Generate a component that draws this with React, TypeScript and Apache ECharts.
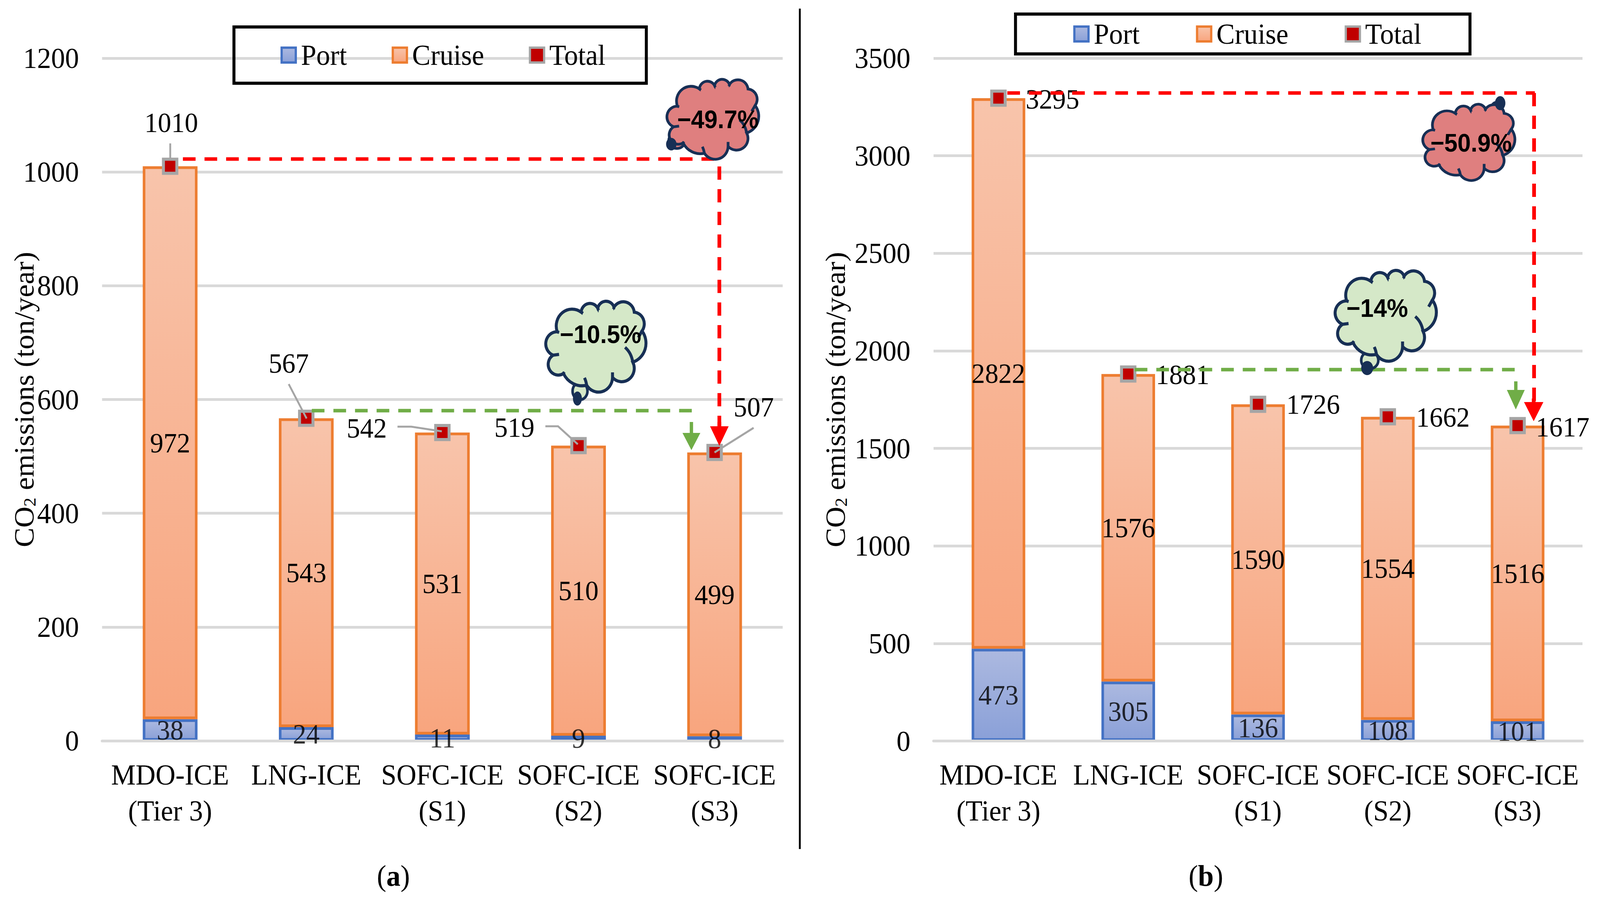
import React, { useEffect, useRef } from "react";
import * as echarts from "echarts";

const categories = ["MDO-ICE\n(Tier 3)", "LNG-ICE", "SOFC-ICE\n(S1)", "SOFC-ICE\n(S2)", "SOFC-ICE\n(S3)"];
const portA = [38, 24, 11, 9, 8];
const cruiseA = [972, 543, 531, 510, 499];
const totalA = [1010, 567, 542, 519, 507];
const portB = [473, 305, 136, 108, 101];
const cruiseB = [2822, 1576, 1590, 1554, 1516];
const totalB = [3295, 1881, 1726, 1662, 1617];
const totalOffsetsA = [[3, -112], [-47, -141], [-203, -12], [-172, -47], [105, -116]];
const totalOffsetsB = [[145, 2], [146, 1], [148, 0], [148, 1], [121, 3]];
const legendNames = ["Port", "Cruise", "Total"];

const DESIGN_WIDTH = 4295;
const DESIGN_HEIGHT = 2306;
const SERIF = "Liberation Serif";
const SANS = "Liberation Sans";
const NAVY = "#172f55";
const RED = "#ff0000";
const GREEN = "#70ad47";
const GRAY = "#a5a5a5";
const CLOUD_RED = "#df7f7f";
const CLOUD_GREEN = "#d5e8c8";

echarts.graphic.registerShape(
  "cloud",
  echarts.graphic.extendPath(
    "M28 86 A43 43 0 0 1 93 36 A24 24 0 0 1 138 26 A23 23 0 0 1 182 23 A30 30 0 0 1 237 36 A30 30 0 0 1 258 84 " +
      "A51 51 0 0 1 233 164 A34 34 0 0 1 178 203 A38 38 0 0 1 108 223 A57 57 0 0 1 45 193 A27 27 0 0 1 17 146 A31 31 0 0 1 28 86 Z " +
      "M28 86 L33 88 M93 36 L98 39 M138 26 L140 31 M182 23 L181 28 M258 84 L248 101 M233 164 Q229 140 212 126 " +
      "M178 203 L178 190 M108 223 Q106 212 102 204 M45 193 L47 189 M17 146 L33 144",
    {}
  ) as any
);

const cruiseFill = () =>
  new echarts.graphic.LinearGradient(0, 0, 0, 1, [
    { offset: 0, color: "#f8c4ab" },
    { offset: 1, color: "#f8a57e" },
  ]);
const portFill = () =>
  new echarts.graphic.LinearGradient(0, 0, 0, 1, [
    { offset: 0, color: "#acb9e0" },
    { offset: 1, color: "#8aa0d8" },
  ]);

function dashed(x1: number, y1: number, x2: number, y2: number, stroke: string, lineWidth: number) {
  return {
    type: "line",
    z: 20,
    shape: { x1, y1, x2, y2 },
    style: { stroke, lineWidth, lineDash: [34, 24] },
  };
}
function arrow(x: number, y1: number, y2: number, y3: number, half: number, color: string, shaft: number) {
  return {
    type: "polygon",
    z: 21,
    shape: {
      points: [
        [x - shaft / 2, y1],
        [x + shaft / 2, y1],
        [x + shaft / 2, y2],
        [x + half, y2],
        [x, y3],
        [x - half, y2],
        [x - shaft / 2, y2],
      ],
    },
    style: { fill: color },
  };
}
function leader(points: number[][]) {
  return {
    type: "polyline",
    z: 22,
    shape: { points },
    style: { stroke: GRAY, lineWidth: 5, fill: "none" },
  };
}
function cloud(
  x: number, y: number, sx: number, sy: number, fill: string, text: string, tx: number, ty: number,
  ring: number[], dot: number[]
) {
  return [
    {
      type: "ellipse", z: 23,
      shape: { cx: ring[0], cy: ring[1], rx: ring[2], ry: ring[3] },
      style: { fill, stroke: NAVY, lineWidth: 7 },
    },
    {
      type: "cloud", z: 24, x, y, scaleX: sx, scaleY: sy,
      style: { fill, stroke: NAVY, lineWidth: 8 },
    },
    {
      type: "ellipse", z: 25,
      shape: { cx: dot[0], cy: dot[1], rx: dot[2], ry: dot[3] },
      style: { fill: NAVY },
    },
    {
      type: "text", z: 26, x: tx, y: ty,
      style: {
        text, fontFamily: SANS, fontWeight: "bold", fontSize: 64, fill: "#000",
        align: "center", verticalAlign: "middle",
      },
    },
  ];
}
function caption(x: number, letter: string) {
  return {
    type: "text", z: 26, x, y: 2241,
    style: {
      text: `({b|${letter}})`, fontFamily: SERIF, fontSize: 76, fill: "#000",
      align: "center", verticalAlign: "middle",
      rich: { b: { fontFamily: SERIF, fontSize: 76, fontWeight: "bold", fill: "#000" } },
    },
  };
}
function legendBox(x: number, y: number, width: number, height: number) {
  return {
    type: "rect", z: 3,
    shape: { x, y, width, height },
    style: { fill: "none", stroke: "#000", lineWidth: 8 },
  };
}

function makeLegend(left: number, top: number, itemGap: number) {
  return {
    left, top, orient: "horizontal", padding: 0, itemGap, itemWidth: 38, itemHeight: 38,
    icon: "rect", selectedMode: false, data: legendNames,
    itemStyle: { borderWidth: 6 },
    textStyle: {
      fontFamily: SERIF, fontSize: 74, lineHeight: 80, color: "#000",
      padding: [0, 0, 0, 9],
    },
  };
}
function makeXAxis(gridIndex: number) {
  return {
    type: "category", gridIndex, data: categories, z: 3,
    axisTick: { show: false },
    axisLine: { show: true, lineStyle: { color: "#d9d9d9", width: 7 } },
    axisLabel: {
      interval: 0, margin: 41, fontFamily: SERIF, fontSize: 74, lineHeight: 92, color: "#000",
    },
  };
}
function makeYAxis(gridIndex: number, max: number, interval: number, nameGap: number) {
  return {
    type: "value", gridIndex, min: 0, max, interval,
    name: "CO{sub|2} emissions (ton/year)",
    nameLocation: "middle", nameRotate: 90, nameGap, nameMoveOverlap: false,
    nameTextStyle: {
      fontFamily: SERIF, fontSize: 75, color: "#000",
      rich: { sub: { fontFamily: SERIF, fontSize: 46, color: "#000", verticalAlign: "bottom", padding: [22, 0, 0, 0] } },
    },
    axisLine: { show: false },
    axisTick: { show: false },
    splitLine: { show: true, lineStyle: { color: "#d9d9d9", width: 7 } },
    axisLabel: {
      margin: 62, fontFamily: SERIF, fontSize: 75, color: "#000",
      formatter: (v: number) => String(v),
    },
  };
}
function makeSeries(
  axisIndex: number, stack: string, barWidth: number,
  port: number[], cruise: number[], total: number[], offsets: number[][]
) {
  const insideLabel = {
    show: true, position: "inside", fontFamily: SERIF, fontSize: 72, color: "#000",
  };
  return [
    {
      name: "Port", type: "bar", stack, xAxisIndex: axisIndex, yAxisIndex: axisIndex, barWidth,
      data: port,
      itemStyle: { color: portFill(), borderColor: "#4472c4", borderWidth: 7 },
    },
    {
      name: "Cruise", type: "bar", stack, xAxisIndex: axisIndex, yAxisIndex: axisIndex, barWidth,
      data: cruise,
      itemStyle: { color: cruiseFill(), borderColor: "#ed7d31", borderWidth: 7 },
      label: insideLabel,
    },
    {
      // carries the Port value labels above the zero line, at the middle of each Port bar
      name: "Port value", type: "scatter", xAxisIndex: axisIndex, yAxisIndex: axisIndex,
      symbol: "rect", symbolSize: 1, z: 6,
      itemStyle: { color: "rgba(0,0,0,0)" },
      data: port.map((v) => ({ value: v / 2, label: { formatter: String(v) } })),
      label: insideLabel,
    },
    {
      name: "Total", type: "scatter", xAxisIndex: axisIndex, yAxisIndex: axisIndex,
      symbol: "rect", symbolSize: 36, z: 5,
      itemStyle: { color: "#c00000", borderColor: GRAY, borderWidth: 8, opacity: 1 },
      data: total.map((value, i) => ({
        value,
        label: { offset: offsets[i] },
      })),
      label: {
        show: true, position: "inside", fontFamily: SERIF, fontSize: 72, color: "#000",
      },
    },
  ];
}

export default function App() {
  const ref = useRef<HTMLDivElement>(null);
  // the browser window may be narrower than the design width: fit the whole chart inside it
  const fit = Math.min(1, window.innerWidth / DESIGN_WIDTH);
  useEffect(() => {
    const chart = echarts.init(ref.current!, undefined, { renderer: "svg" });
    chart.setOption({
      animation: false,
      backgroundColor: "#fff",
      grid: [
        { left: 274, top: 149, width: 1827, height: 1747, outerBoundsMode: "none", containLabel: false },
        { left: 2506, top: 149, width: 1742, height: 1747.5, outerBoundsMode: "none", containLabel: false },
      ],
      legend: [makeLegend(753, 101, 120), makeLegend(2881, 47, 151)],
      xAxis: [makeXAxis(0), makeXAxis(1)],
      yAxis: [makeYAxis(0, 1200, 200, 171), makeYAxis(1, 3500, 500, 225)],
      series: [
        ...makeSeries(0, "a", 147, portA, cruiseA, totalA, totalOffsetsA),
        ...makeSeries(1, "b", 144, portB, cruiseB, totalB, totalOffsetsB),
      ],
      graphic: {
        elements: [
          legendBox(628, 69, 1107, 144),
          legendBox(2726, 36, 1220, 102),
          { type: "line", z: 20, shape: { x1: 2147, y1: 22, x2: 2147, y2: 2173 }, style: { stroke: "#000", lineWidth: 5 } },
          dashed(491, 407, 1931, 407, RED, 9),
          dashed(1931, 426, 1931, 1091, RED, 10),
          arrow(1931, 1080, 1091, 1141, 25, RED, 10),
          dashed(837, 1051, 1859, 1051, GREEN, 9),
          arrow(1856, 1080, 1108, 1152, 24, GREEN, 9),
          dashed(2704, 238, 4120, 238, RED, 9),
          dashed(4118, 238, 4118, 1029, RED, 10),
          arrow(4117, 1020, 1029, 1078, 26, RED, 10),
          dashed(3046, 946, 4072, 946, GREEN, 9),
          arrow(4069, 976, 998, 1048, 24, GREEN, 9),
          leader([[457, 367], [457, 410]]),
          leader([[775, 983], [823, 1071]]),
          leader([[1067, 1092], [1104, 1092], [1186, 1104]]),
          leader([[1464, 1091], [1498, 1091], [1551, 1137]]),
          leader([[2023, 1095], [1918, 1158]]),
          ...cloud(1793, 196, 0.907, 0.88, CLOUD_RED, "\u221249.7%", 1927, 305, [1817, 360, 22, 20], [1802, 369, 14, 16]),
          ...cloud(1468, 763, 0.99, 1, CLOUD_GREEN, "\u221210.5%", 1612, 855, [1557, 1001, 20, 22], [1550, 1020, 12, 18]),
          ...cloud(3822, 260, 0.91, 0.84, CLOUD_RED, "\u221250.9%", 3949, 365, [4017, 282, 15, 20], [4027, 264, 14, 18]),
          ...cloud(3587, 684, 1, 1, CLOUD_GREEN, "\u221214%", 3697, 788, [3677, 922, 23, 22], [3670, 942, 16, 18]),
          caption(1056, "a"),
          caption(3237, "b"),
        ],
      },
    });
    return () => chart.dispose();
  }, []);
  return (
    <div
      ref={ref}
      style={{
        position: "absolute", left: 0, top: 0, width: DESIGN_WIDTH, height: DESIGN_HEIGHT,
        background: "#fff", transform: `scale(${fit}, 1)`, transformOrigin: "0 0",
      }}
    />
  );
}
